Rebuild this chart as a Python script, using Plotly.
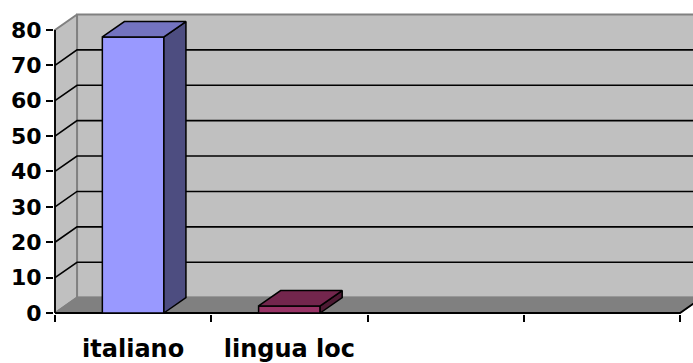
import plotly.graph_objects as go

# Survey results: language spoken
categories = ["italiano", "lingua loc"]
values = [78, 2]
n_slots = 4                      # category slots on the axis (last two are empty)
y_ticks = [0, 10, 20, 30, 40, 50, 60, 70, 80]

# 3-D look: depth offset in axis units, bar half-width in category units
DX, DY = 0.141, 4.35
HALF_W = 0.197
X0, X1 = -0.5, n_slots - 0.5
Y_TOP = y_ticks[-1]

WALL = "#C0C0C0"
FLOOR = "#808080"
EDGE = "#808080"
bar_colors = [
    ("#9999FF", "#4D4D80", "#7373C0"),   # front, side, top
    ("#993366", "#4D1A33", "#73264D"),
]

fig = go.Figure()


def poly(xs, ys, fill, line_color, width=1.5):
    fig.add_trace(go.Scatter(
        x=xs + [xs[0]], y=ys + [ys[0]], mode="lines", fill="toself",
        fillcolor=fill, line=dict(color=line_color, width=width),
        hoverinfo="skip", showlegend=False))


def seg(xs, ys, color, width=1.5):
    fig.add_trace(go.Scatter(
        x=xs, y=ys, mode="lines", line=dict(color=color, width=width),
        hoverinfo="skip", showlegend=False))


# back wall, side wall, floor
poly([X0 + DX, X1 + DX + 1, X1 + DX + 1, X0 + DX],
     [DY, DY, Y_TOP + DY, Y_TOP + DY], WALL, EDGE, 2)
poly([X0, X0 + DX, X0 + DX, X0], [0, DY, Y_TOP + DY, Y_TOP], WALL, EDGE, 2)
poly([X0, X1, X1 + DX, X0 + DX], [0, 0, DY, DY], FLOOR, EDGE, 1.5)

# gridlines across side wall and back wall
for t in y_ticks[1:-1]:
    seg([X0, X0 + DX, X1 + DX + 1], [t, t + DY, t + DY], "black", 1.6)

# floor front edge and right corner, value axis line
seg([X0, X1, X1 + DX], [0, 0, DY], "black", 1.8)
seg([X0, X0], [0, Y_TOP], "black", 1.8)

# 3-D columns
for i, (cat, v) in enumerate(zip(categories, values)):
    front, side, top = bar_colors[i]
    l, r = i - HALF_W, i + HALF_W
    poly([l, r, r, l], [0, 0, v, v], front, "black")
    poly([r, r + DX, r + DX, r], [0, DY, v + DY, v], side, "black")
    poly([l, r, r + DX, l + DX], [v, v, v + DY, v + DY], top, "black")

px_per_cat = 156.25
px_per_val = 3.584
fig.update_layout(
    width=693, height=363,
    margin=dict(l=54, r=0, t=0, b=45),
    paper_bgcolor="white", plot_bgcolor="white",
    xaxis=dict(
        range=[X0 - 1 / px_per_cat, X1 + 13 / px_per_cat],
        tickvals=list(range(len(categories))), ticktext=categories,
        ticks="outside", ticklen=13, tickcolor="rgba(0,0,0,0)",
        minor=dict(tickvals=[X0 + k for k in range(n_slots + 1)],
                   ticks="outside", ticklen=7, tickcolor="black", tickwidth=1.5),
        showgrid=False, zeroline=False, showline=False, fixedrange=True,
        tickfont=dict(family="DejaVu Sans", size=24, color="black", weight="bold"),
    ),
    yaxis=dict(
        range=[-1 / px_per_val, 317 / px_per_val],
        tickvals=y_ticks, ticks="outside", ticklen=7, tickcolor="black",
        tickwidth=1.5, showgrid=False, zeroline=False, showline=False,
        fixedrange=True,
        tickfont=dict(family="DejaVu Sans", size=22, color="black", weight="bold"),
    ),
)

fig.write_html("out.html")
